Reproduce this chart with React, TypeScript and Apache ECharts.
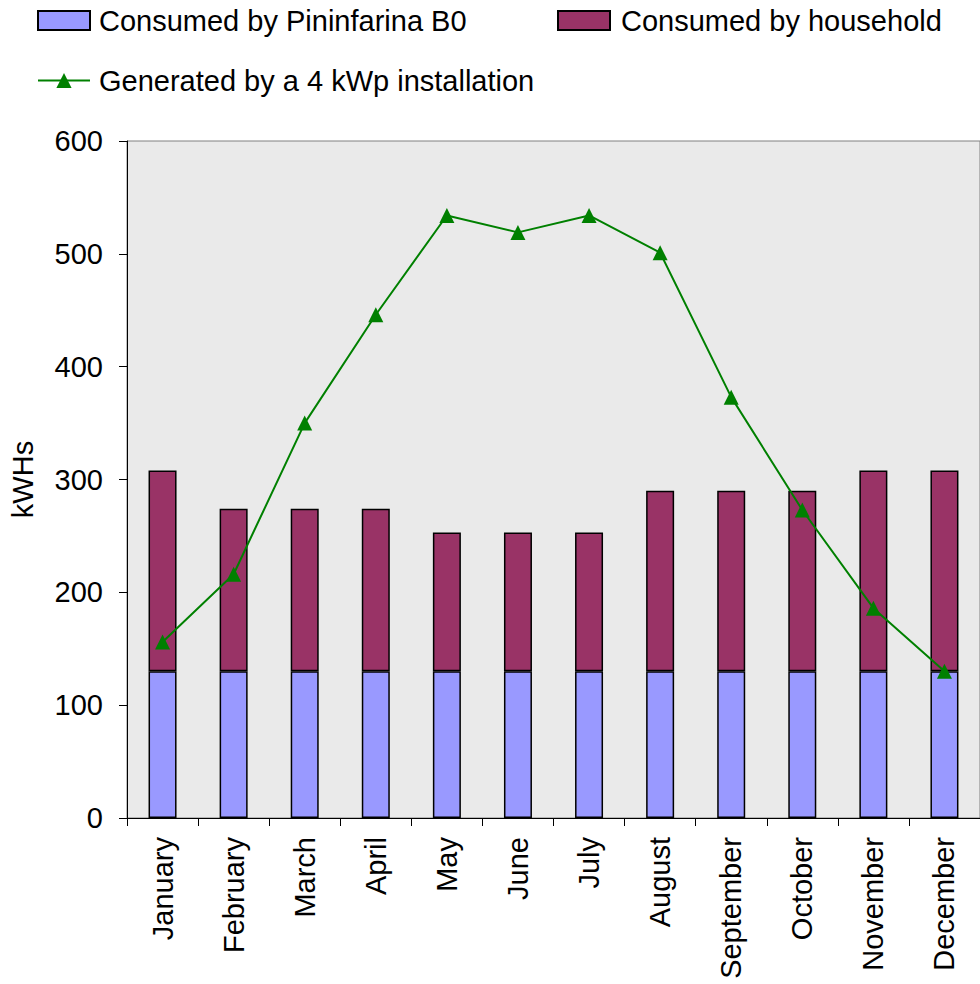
import React, { useEffect, useRef } from "react";
import * as echarts from "echarts";

const months = [
  "January", "February", "March", "April", "May", "June",
  "July", "August", "September", "October", "November", "December",
];
const consumedByCar = [130, 130, 130, 130, 130, 130, 130, 130, 130, 130, 130, 130];
const consumedByHousehold = [178, 144, 144, 144, 123, 123, 123, 160, 160, 160, 178, 178];
const generatedBySolar = [156, 216, 350, 446, 534, 519, 534, 501, 373, 273, 186, 130];
const yTicks = { min: 0, max: 600, interval: 100 };

const FONT = "'Liberation Sans', Arial, sans-serif";
const FS = 29;

export default function App() {
  const ref = useRef<HTMLDivElement>(null);

  useEffect(() => {
    if (!ref.current) return;
    const chart = echarts.init(ref.current, null, { renderer: "svg" });

    const legendCommon = {
      orient: "horizontal" as const,
      padding: 0,
      itemWidth: 52,
      itemHeight: 19,
      textStyle: { fontFamily: FONT, fontSize: FS, color: "#000", padding: [0, 0, 0, 4] },
    };

    chart.setOption({
      animation: false,
      backgroundColor: "#ffffff",
      textStyle: { fontFamily: FONT },
      legend: [
        {
          ...legendCommon,
          icon: "rect",
          data: ["Consumed by Pininfarina B0"],
          left: 37,
          top: 6,
        },
        {
          ...legendCommon,
          icon: "rect",
          data: ["Consumed by household"],
          left: 557,
          top: 6,
          textStyle: { ...legendCommon.textStyle, padding: [0, 0, 0, 6] },
        },
        {
          ...legendCommon,
          data: ["Generated by a 4 kWp installation"],
          left: 37,
          top: 66,
        },
      ],
      grid: {
        left: 124,
        top: 141,
        width: 864,
        height: 677,
        show: true,
        backgroundColor: "#EAEAEA",
        borderColor: "#808080",
        borderWidth: 1,
      },
      xAxis: {
        type: "category",
        data: months,
        axisLine: { lineStyle: { color: "#000", width: 1 } },
        axisTick: { show: true, length: 8, lineStyle: { color: "#000" }, alignWithLabel: false },
        axisLabel: {
          rotate: 90,
          margin: 19,
          fontFamily: FONT,
          fontSize: FS,
          color: "#000",
          interval: 0,
        },
      },
      yAxis: {
        type: "value",
        min: yTicks.min,
        max: yTicks.max,
        interval: yTicks.interval,
        name: "kWHs",
        nameLocation: "middle",
        nameRotate: 90,
        nameGap: 90,
        nameTextStyle: { fontFamily: FONT, fontSize: FS, color: "#000" },
        axisLine: { show: true, lineStyle: { color: "#000", width: 1 } },
        axisTick: { show: true, length: 8, lineStyle: { color: "#000" } },
        splitLine: { show: false },
        axisLabel: { margin: 24, fontFamily: FONT, fontSize: FS, color: "#000" },
      },
      series: [
        {
          name: "Consumed by Pininfarina B0",
          type: "bar",
          stack: "consumption",
          data: consumedByCar,
          barWidth: 28,
          itemStyle: { color: "#9999FF", borderColor: "#000", borderWidth: 1.5 },
        },
        {
          name: "Consumed by household",
          type: "bar",
          stack: "consumption",
          data: consumedByHousehold,
          barWidth: 28,
          itemStyle: { color: "#993366", borderColor: "#000", borderWidth: 1.5 },
        },
        {
          name: "Generated by a 4 kWp installation",
          type: "line",
          data: generatedBySolar,
          symbol: "triangle",
          symbolSize: 15,
          lineStyle: { color: "#008000", width: 2 },
          itemStyle: { color: "#008000" },
          z: 5,
        },
      ],
    });

    return () => chart.dispose();
  }, []);

  return (
    <div
      ref={ref}
      style={{ position: "fixed", left: 0, top: 0, width: 980, height: 984 }}
    />
  );
}
